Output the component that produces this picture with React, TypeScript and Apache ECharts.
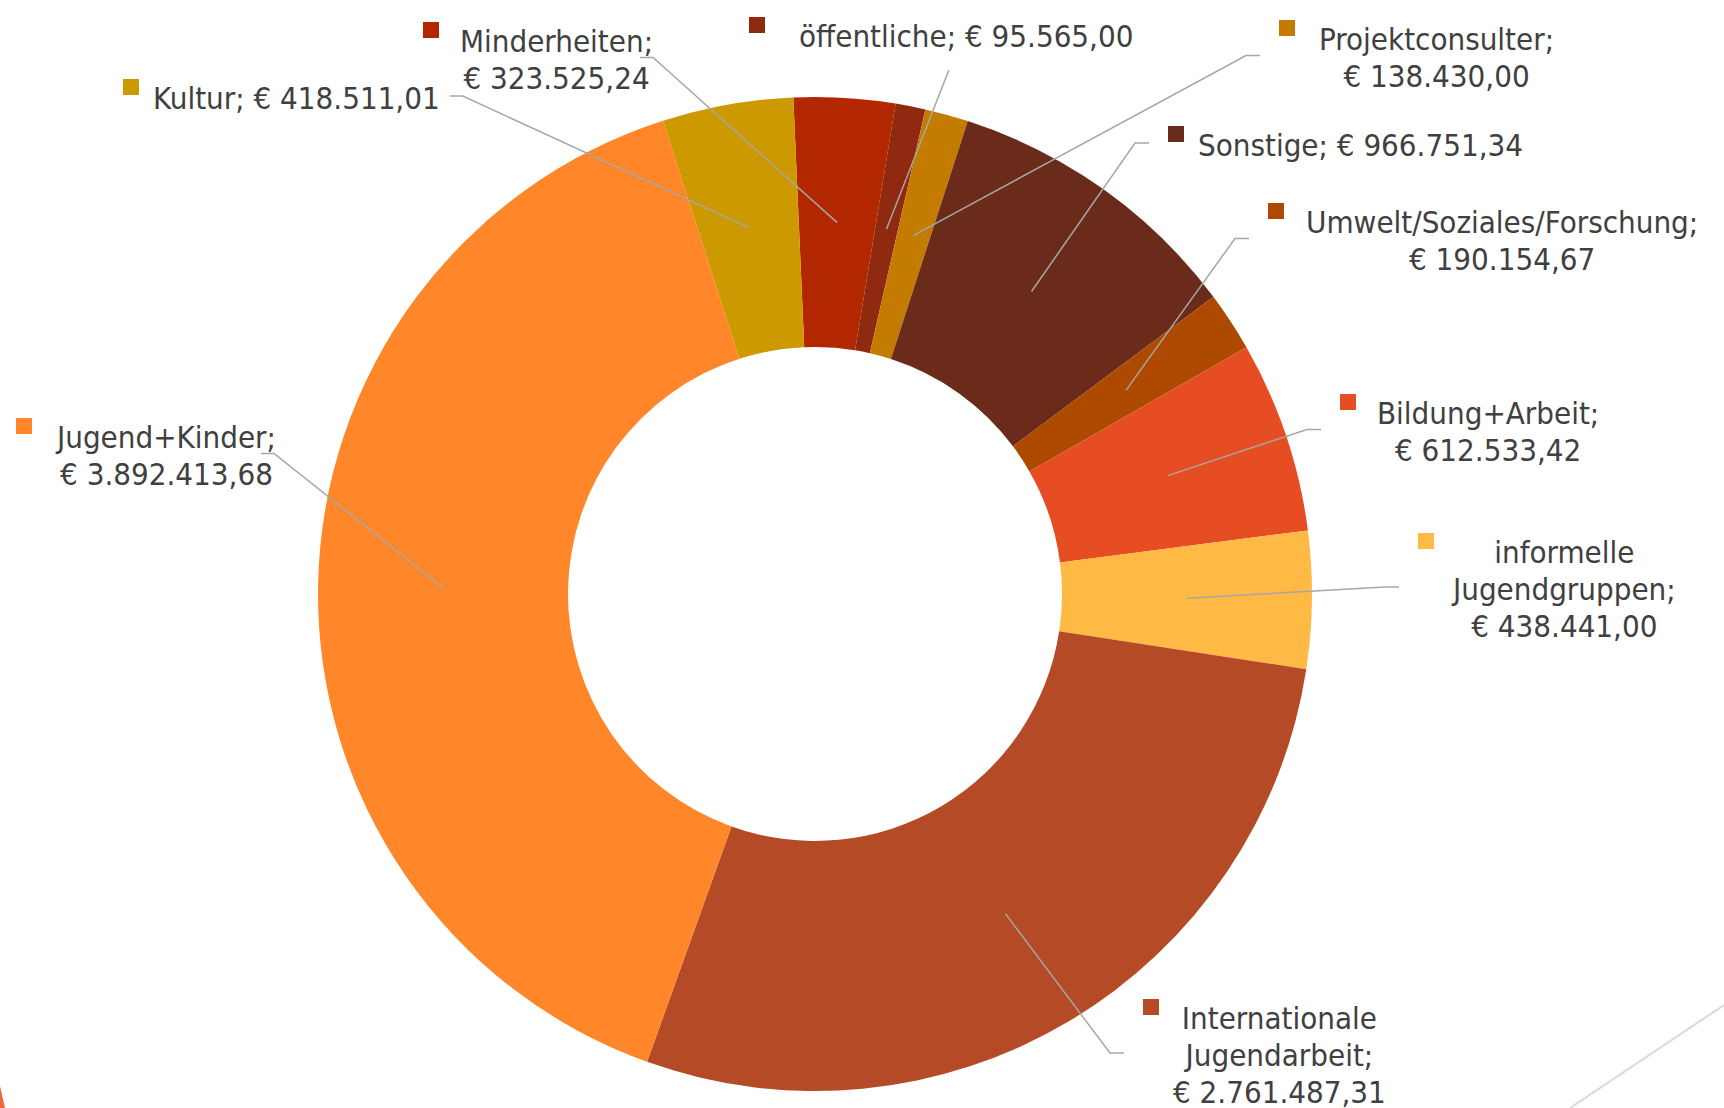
import React, { useEffect, useRef } from "react";
import * as echarts from "echarts";

// ---- data ----
const categories = [
  "Minderheiten",
  "öffentliche",
  "Projektconsulter",
  "Sonstige",
  "Umwelt/Soziales/Forschung",
  "Bildung+Arbeit",
  "informelle Jugendgruppen",
  "Internationale Jugendarbeit",
  "Jugend+Kinder",
  "Kultur",
];
const values = [
  323525.24, 95565.0, 138430.0, 966751.34, 190154.67, 612533.42, 438441.0,
  2761487.31, 3892413.68, 418511.01,
];
const colors = [
  "#B22600", "#8F2A11", "#C47C00", "#6B2B1A", "#AD4A00",
  "#E64D22", "#FFBA45", "#B54A26", "#FF8629", "#CC9900",
];

// ---- layout (label placement, in px) ----
const labelSingleLine = [false, true, false, true, false, false, false, false, false, true];
const labelWrapName = [false, false, false, false, false, false, true, true, false, false];
const labelPos: [number, number][] = [
  [423, 22],
  [749, 17],
  [1279, 20],
  [1168, 126],
  [1268, 203],
  [1340, 394],
  [1418, 533],
  [1143, 999],
  [16, 418],
  [123, 79],
];
const keyGap = [21, 34, 24, 14, 22, 21, 19, 14, 25, 14];
// where the leader line meets the label: "left" of the block, "right" of it, or "below" it
const lineAnchor = ["right", "below", "left", "left", "left", "left", "left", "left", "right", "right"];
const lineEndDx = [-13, 0, 0, 0, 0, 0, 0, 0, -15, 10];

const CX = 815;
const CY = 594;
const R_OUT = 497;
const R_IN = 247;
const START_DEG = -2.5; // clockwise from 12 o'clock

const FONT = '"DejaVu Sans Condensed", "DejaVu Sans", sans-serif';

function fmtEuro(v: number): string {
  const [i, d] = v.toFixed(2).split(".");
  return "€ " + i.replace(/\B(?=(\d{3})+(?!\d))/g, ".") + "," + d;
}

export default function App() {
  const ref = useRef<HTMLDivElement>(null);

  useEffect(() => {
    if (!ref.current) return;
    const chart = echarts.init(ref.current, null, { renderer: "svg" });

    const total = values.reduce((a, b) => a + b, 0);
    const midAngles: number[] = [];
    let cum = 0;
    values.forEach((v) => {
      midAngles.push(((START_DEG + ((cum + v / 2) / total) * 360) * Math.PI) / 180);
      cum += v;
    });

    const ringData = categories.map((name, i) => ({
      name,
      value: values[i],
      itemStyle: { color: colors[i] },
    }));

    const labelData = categories.map((name, i) => {
      const nm = labelWrapName[i] ? name.replace(" ", "\n") : name;
      const text = nm + ";" + (labelSingleLine[i] ? " " : "\n") + fmtEuro(values[i]);
      const lines = text.split("\n");
      const formatter = lines
        .map((ln, k) => (k === 0 ? "{sq|}" : "{sp|}") + "{g|}{t|" + ln + "}")
        .join("\n");
      return {
        name,
        value: values[i],
        itemStyle: { color: "rgba(0,0,0,0)" },
        label: {
          formatter,
          rich: {
            sq: {
              width: 16,
              height: 16,
              backgroundColor: colors[i],
              align: "left",
              verticalAlign: "top",
            },
            sp: { width: 16, height: 16, align: "left" },
            g: { width: keyGap[i], align: "left" },
            t: {
              fontSize: 31,
              fontFamily: FONT,
              color: "#404040",
              lineHeight: 37,
              align: "center",
            },
          },
        },
      };
    });

    const common = {
      type: "pie",
      left: 0,
      top: 0,
      width: 4000,
      height: 4000,
      center: [CX, CY],
      radius: [R_IN, R_OUT],
      startAngle: 90 - START_DEG,
      clockwise: true,
      avoidLabelOverlap: false,
      emphasis: { disabled: true },
      silent: true,
    };

    const option: any = {
      animation: false,
      backgroundColor: "#ffffff",
      graphic: [
        {
          type: "line",
          shape: { x1: 1724, y1: 1005, x2: 1570, y2: 1108 },
          style: { stroke: "#D9D9D9", lineWidth: 2 },
          silent: true,
        },
        {
          type: "polygon",
          shape: { points: [[0, 1086], [5, 1108], [0, 1108]] },
          style: { fill: "#F0683A" },
          silent: true,
        },
      ],
      series: [
        {
          ...common,
          z: 1,
          itemStyle: { borderWidth: 0 },
          label: { show: false },
          labelLine: { show: false },
          data: ringData,
        },
        {
          ...common,
          z: 5,
          itemStyle: { borderWidth: 0, color: "rgba(0,0,0,0)" },
          label: { show: true, position: "outside" },
          labelLine: {
            show: true,
            length: 20,
            length2: 20,
            smooth: false,
            lineStyle: { color: "#A6A6A6", width: 1.5 },
          },
          labelLayout: (p: any) => {
            const i = p.dataIndex;
            const [x, y] = labelPos[i];
            const w = p.labelRect.width;
            const h = p.labelRect.height;
            const rm = (R_IN + R_OUT) / 2;
            const a = midAngles[i];
            const s = [CX + rm * Math.sin(a), CY - rm * Math.cos(a)];
            let pts: number[][];
            if (lineAnchor[i] === "left") {
              const end = [x - 19 + lineEndDx[i], y + h / 2];
              pts = [s, [end[0] - 14, end[1]], end];
            } else if (lineAnchor[i] === "right") {
              const end = [x + w + lineEndDx[i], y + h / 2];
              pts = [s, [end[0] + 13, end[1]], end];
            } else {
              const end = [x + w * 0.52, y + h + 19];
              pts = [s, end];
            }
            return {
              x,
              y,
              align: "left",
              verticalAlign: "top",
              labelLinePoints: pts,
            };
          },
          data: labelData,
        },
      ],
    };
    chart.setOption(option);
    return () => chart.dispose();
  }, []);

  return (
    <div
      ref={ref}
      style={{ position: "absolute", left: 0, top: 0, width: 1724, height: 1108 }}
    />
  );
}
